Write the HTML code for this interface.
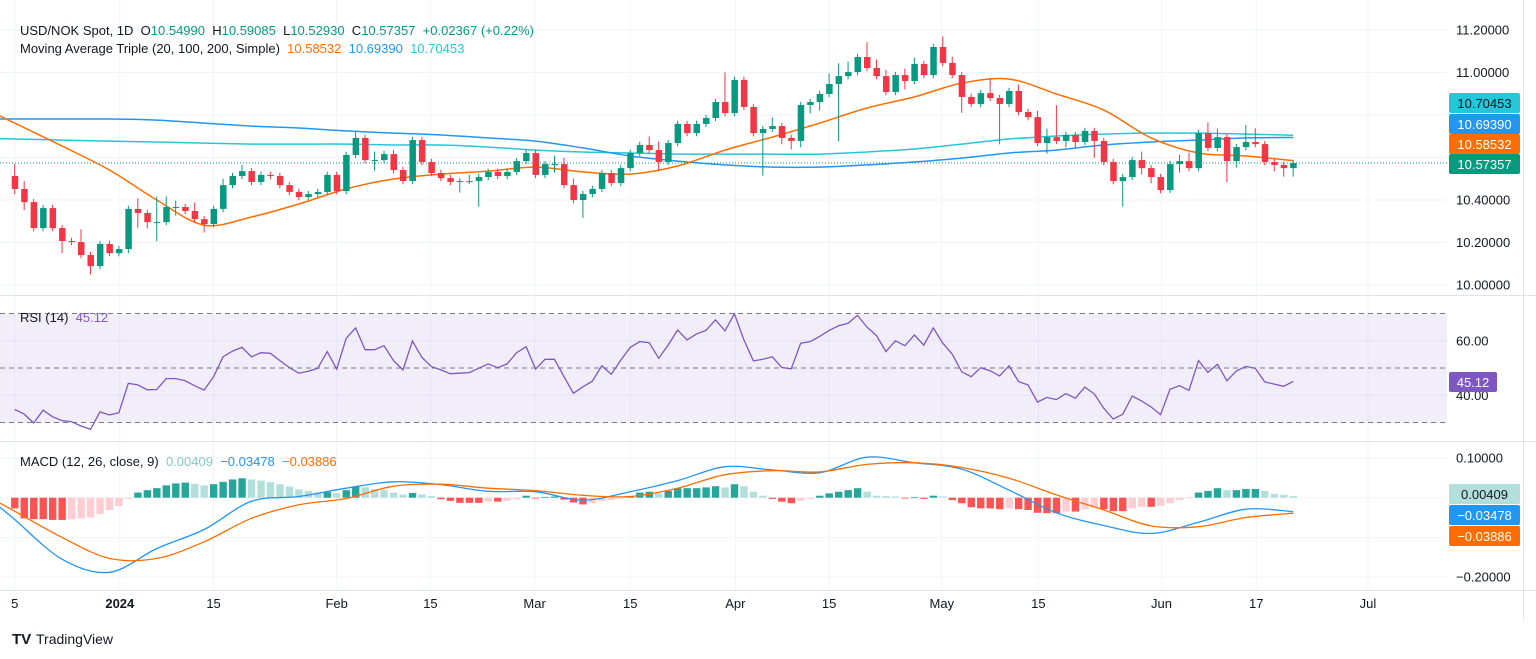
<!DOCTYPE html>
<html><head><meta charset="utf-8"><style>
html,body{margin:0;padding:0;background:#fff;}
svg{display:block;font-family:"Liberation Sans",sans-serif;}
text{white-space:pre;}
</style></head><body>
<svg id="chart" width="1536" height="659" viewBox="0 0 1536 659" xmlns="http://www.w3.org/2000/svg">
<g id="grid"></g>
<rect x="0" y="314" width="1447" height="109" fill="#7e57c2" fill-opacity="0.1"/>
<g id="rsiLevels"></g>
<g id="ma"></g>
<g id="candles"></g>
<g id="rsi"></g>
<g id="macd"></g>
<g id="axes"></g>
<g id="legend">
 <text x="20" y="35" font-size="13" fill="#131722" xml:space="preserve">USD/NOK Spot, 1D  O<tspan fill="#089981">10.54990</tspan>  H<tspan fill="#089981">10.59085</tspan>  L<tspan fill="#089981">10.52930</tspan>  C<tspan fill="#089981">10.57357</tspan>  <tspan fill="#089981">+0.02367 (+0.22%)</tspan></text>
 <text x="20" y="53" font-size="13" fill="#131722" xml:space="preserve">Moving Average Triple (20, 100, 200, Simple)  <tspan fill="#ff6d00">10.58532</tspan>  <tspan fill="#2196f3">10.69390</tspan>  <tspan fill="#26c6da">10.70453</tspan></text>
 <text x="20" y="322" font-size="13" fill="#131722" xml:space="preserve">RSI (14)  <tspan fill="#7e57c2">45.12</tspan></text>
 <text x="20" y="466" font-size="13" fill="#131722" xml:space="preserve">MACD (12, 26, close, 9)  <tspan fill="#80cbc4">0.00409</tspan>  <tspan fill="#2196f3">−0.03478</tspan>  <tspan fill="#ff6d00">−0.03886</tspan></text>
</g>
<g>
 <text x="12" y="644" font-size="15" font-weight="bold" fill="#131722">TV</text>
 <text x="36" y="644" font-size="14" fill="#131722">TradingView</text>
</g>
</svg>
<script>
const NS="http://www.w3.org/2000/svg";
// ---- price data (per daily candle) ----
const firstOpen=10.513;
const closes=[10.452,10.390,10.268,10.362,10.268,10.207,10.202,10.141,10.089,10.193,
10.150,10.169,10.358,10.339,10.296,10.296,10.367,10.367,10.348,10.310,
10.287,10.358,10.470,10.513,10.536,10.485,10.518,10.513,10.470,10.438,
10.414,10.428,10.438,10.518,10.442,10.612,10.692,10.588,10.588,10.616,
10.541,10.489,10.682,10.579,10.527,10.503,10.485,10.489,10.489,10.508,
10.532,10.513,10.532,10.583,10.621,10.518,10.569,10.569,10.470,10.400,
10.428,10.452,10.527,10.480,10.550,10.621,10.659,10.635,10.579,10.668,
10.758,10.715,10.758,10.786,10.861,10.809,10.965,10.838,10.715,10.734,
10.748,10.692,10.678,10.847,10.861,10.899,10.946,10.983,11.002,11.073,
11.021,10.983,10.908,10.988,10.960,11.040,10.988,11.120,11.045,10.988,
10.885,10.852,10.903,10.880,10.852,10.913,10.814,10.790,10.668,10.696,
10.678,10.706,10.673,10.725,10.678,10.579,10.489,10.508,10.588,10.550,
10.508,10.447,10.569,10.583,10.550,10.715,10.645,10.696,10.583,10.649,
10.673,10.663,10.579,10.565,10.550,10.574];
const upWick=[.056,.038,.015,.015,.015,.015,.015,.06,.015,.015,
.015,.015,.015,.05,.015,.12,.05,.03,.015,.04,
.015,.015,.03,.015,.03,.015,.015,.015,.015,.015,
.015,.015,.015,.015,.015,.015,.03,.015,.04,.015,
.02,.015,.015,.015,.015,.015,.015,.015,.03,.015,
.015,.015,.015,.015,.015,.015,.015,.04,.03,.03,
.015,.015,.015,.015,.015,.015,.015,.04,.04,.015,
.015,.015,.015,.015,.015,.14,.015,.015,.015,.015,
.04,.015,.015,.015,.015,.015,.05,.06,.05,.015,
.07,.04,.03,.015,.03,.03,.015,.015,.05,.03,
.015,.015,.015,.07,.015,.015,.03,.015,.03,.04,
.15,.015,.015,.015,.015,.015,.015,.015,.015,.04,
.015,.015,.015,.03,.04,.015,.05,.04,.015,.015,
.08,.065,.015,.015,.015,.015];
const dnWick=[.024,.038,.015,.015,.015,.058,.015,.015,.04,.015,
.015,.015,.02,.07,.03,.09,.015,.04,.015,.015,
.04,.015,.015,.015,.015,.015,.015,.015,.015,.015,
.015,.015,.015,.015,.015,.015,.015,.015,.05,.015,
.015,.015,.015,.015,.015,.015,.015,.05,.015,.12,
.015,.015,.015,.015,.015,.015,.015,.04,.015,.015,
.085,.015,.015,.015,.015,.015,.015,.015,.04,.015,
.015,.015,.015,.015,.015,.015,.015,.015,.015,.2,
.015,.03,.04,.03,.04,.04,.015,.27,.015,.015,
.015,.015,.015,.015,.04,.015,.015,.015,.015,.015,
.075,.015,.015,.015,.19,.015,.015,.015,.015,.05,
.015,.03,.03,.015,.08,.015,.015,.12,.015,.03,
.03,.015,.015,.04,.015,.015,.015,.015,.1,.03,
.015,.015,.015,.03,.04,.04];
// moving averages sampled every 5 candles
const maStep=5;
const ma20=[10.762,10.654,10.541,10.400,10.282,10.320,10.381,10.452,10.499,10.522,10.536,10.555,10.532,10.522,10.560,10.635,10.696,10.762,10.833,10.885,10.950,10.969,10.899,10.823,10.692,10.621,10.607,10.585];
const ma100=[10.781,10.781,10.781,10.776,10.762,10.748,10.739,10.725,10.715,10.706,10.692,10.677,10.645,10.607,10.583,10.565,10.555,10.555,10.565,10.579,10.597,10.621,10.635,10.659,10.673,10.682,10.692,10.694];
const ma200=[10.687,10.682,10.677,10.673,10.668,10.663,10.663,10.663,10.659,10.659,10.649,10.635,10.626,10.621,10.616,10.616,10.616,10.616,10.626,10.640,10.663,10.687,10.701,10.710,10.715,10.715,10.710,10.705];
// RSI per candle
const rsiVals=[34.8,33.1,29.8,34.5,32.1,30.7,30.3,28.7,27.5,33.9,32.8,33.6,44.4,43.8,42.0,42.1,46.1,46.1,45.3,43.5,41.9,46.8,54.1,56.2,57.6,54.1,55.6,55.4,52.7,50.2,48.1,48.8,49.9,56.0,49.6,60.9,64.7,56.7,56.7,58.2,52.7,49.3,59.9,53.9,50.5,49.3,47.9,48.1,48.3,49.9,51.5,50.1,51.5,55.6,57.8,49.6,53.2,53.2,46.8,40.7,43.1,45.2,50.8,47.7,52.9,57.6,59.7,59.3,53.6,
58.4,63.9,60.3,62.5,63.8,67.7,63.6,69.9,60.3,52.6,53.2,54.1,50.2,49.7,59.1,59.7,61.6,63.8,65.5,66.4,69.3,65.0,61.9,56.0,60.0,58.2,62.1,58.4,64.7,59.1,55.1,48.6,46.8,50.1,49.0,47.1,50.8,45.0,43.8,37.5,39.2,38.4,40.6,38.9,43.0,40.5,35.2,31.3,33.0,39.7,37.9,35.7,32.9,42.2,43.5,41.8,52.7,48.4,51.4,45.3,48.9,50.6,49.9,44.9,44.1,43.3,45.1];
// MACD
const macdLine=[-0.055,-0.155,-0.188,-0.128,-0.080,-0.009,0.003,0.024,0.040,0.033,0.016,0.015,-0.006,0.015,0.043,0.078,0.070,0.063,0.102,0.088,0.072,0.019,-0.038,-0.070,-0.090,-0.062,-0.029,-0.035];
const signalLine=[-0.034,-0.100,-0.153,-0.153,-0.111,-0.052,-0.018,-0.002,0.029,0.034,0.024,0.018,0.006,0.003,0.024,0.058,0.068,0.065,0.084,0.088,0.076,0.049,0.007,-0.031,-0.071,-0.073,-0.050,-0.039];
const hist=[-0.027,-0.052,-0.054,-0.054,-0.056,-0.056,-0.054,-0.052,-0.050,-0.041,
-0.031,-0.021,-0.003,0.013,0.019,0.024,0.031,0.036,0.038,0.035,
0.031,0.034,0.040,0.046,0.049,0.046,0.043,0.039,0.034,0.028,
0.021,0.017,0.013,0.014,0.011,0.019,0.028,0.026,0.022,0.019,
0.013,0.008,0.012,0.008,0.004,-0.004,-0.008,-0.013,-0.013,-0.013,
-0.010,-0.010,-0.008,-0.004,0.005,-0.002,0.002,0.003,-0.005,-0.012,
-0.017,-0.013,-0.008,-0.006,-0.002,0.004,0.013,0.015,0.011,0.017,
0.024,0.024,0.024,0.026,0.029,0.026,0.034,0.029,0.015,0.005,
-0.003,-0.010,-0.014,-0.008,-0.003,0.005,0.011,0.015,0.019,0.024,
0.015,0.005,0.004,0.003,-0.002,0.001,-0.003,0.005,0.003,-0.006,
-0.014,-0.024,-0.027,-0.027,-0.029,-0.027,-0.029,-0.031,-0.038,-0.039,
-0.039,-0.035,-0.035,-0.029,-0.024,-0.029,-0.034,-0.034,-0.027,-0.023,
-0.023,-0.021,-0.014,-0.006,-0.002,0.013,0.017,0.024,0.019,0.019,
0.022,0.022,0.017,0.009,0.007,0.004];
// axis ticks
const priceTicks=[10.0,10.2,10.4,10.6,10.8,11.0,11.2];
const priceTickLabels=["10.00000","10.20000","10.40000","","","11.00000","11.20000"];
const rsiTicks=[40,60];
const macdTicks=[-0.2,-0.1,0,0.1];
const macdTickLabels=["−0.20000","","","0.10000"];
const timeLabels=["5","2024","15","Feb","15","Mar","15","Apr","15","May","15","Jun","17","Jul"];
const timeIdx=[0,11.1,21,34.0,43.9,54.9,65,76.1,86.0,97.9,108.1,121.1,131.1,142.9];

// ---- scales ----
const X=i=>14.7+9.47*i;
const YP=p=>285-(p-10)*212.5;
const YR=r=>368-(r-50)*2.725;
const YM=m=>497.7-m*397;
const PLOT_R=1447;

function el(tag,attrs,parent){const e=document.createElementNS(NS,tag);for(const k in attrs)e.setAttribute(k,attrs[k]);parent.appendChild(e);return e;}
function smooth(pts){let d="M"+pts[0][0].toFixed(1)+","+pts[0][1].toFixed(1);
 for(let i=0;i<pts.length-1;i++){const p0=pts[Math.max(0,i-1)],p1=pts[i],p2=pts[i+1],p3=pts[Math.min(pts.length-1,i+2)];
 const c1=[p1[0]+(p2[0]-p0[0])/6,p1[1]+(p2[1]-p0[1])/6],c2=[p2[0]-(p3[0]-p1[0])/6,p2[1]-(p3[1]-p1[1])/6];
 d+=" C"+c1[0].toFixed(1)+","+c1[1].toFixed(1)+" "+c2[0].toFixed(1)+","+c2[1].toFixed(1)+" "+p2[0].toFixed(1)+","+p2[1].toFixed(1);}return d;}
function withLead(pts){const a=pts[0],b=pts[1];const s=(b[1]-a[1])/(b[0]-a[0]);return [[0,a[1]-s*a[0]]].concat(pts.slice(1).length?[a].concat(pts.slice(1)):[a]);}

const grid=document.getElementById('grid'),axes=document.getElementById('axes');
priceTicks.forEach(p=>{const l=el('line',{x1:0,x2:PLOT_R,y1:YP(p),y2:YP(p),stroke:'#f0f3fa'},grid);

});
rsiTicks.forEach(r=>{const l=el('line',{x1:0,x2:PLOT_R,y1:YR(r),y2:YR(r),stroke:'#f0f3fa'},grid);

});
macdTicks.forEach(m=>{const l=el('line',{x1:0,x2:PLOT_R,y1:YM(m),y2:YM(m),stroke:'#f0f3fa'},grid);

});
timeIdx.forEach(t=>{const l=el('line',{x1:X(t),x2:X(t),y1:0,y2:590,stroke:'#f0f3fa'},grid);

});
[[295.5],[441.5],[590.5]].forEach(v=>{const l=el('line',{x1:0,x2:1536,y1:v[0],y2:v[0],stroke:'#e0e3eb'},grid);

});
const vd=el('line',{x1:1523.5,x2:1523.5,y1:0,y2:620,stroke:'#e0e3eb'},grid);


const rl=document.getElementById('rsiLevels');
[70,50,30].forEach(r=>{const l=el('line',{x1:0,x2:PLOT_R,y1:YR(r),y2:YR(r),stroke:'#787b86','stroke-dasharray':'5,4','stroke-width':1},rl);

});

const maG=document.getElementById('ma');
[[ma200,'#26c6da','ma200-line'],[ma100,'#2196f3','ma100-line'],[ma20,'#ff6d00','ma20-line']].forEach(([arr,c,n])=>{
 const pts=withLead(arr.map((v,k)=>[X(k*maStep),YP(v)]));
 const p=el('path',{d:smooth(pts),fill:'none',stroke:c,'stroke-width':1.5},maG);
 
 
});

const cg=document.getElementById('candles');
const lastY=YP(closes[closes.length-1]);
const dl=el('line',{x1:0,x2:PLOT_R,y1:lastY,y2:lastY,stroke:'#089981','stroke-dasharray':'1,2'},cg);


closes.forEach((c,i)=>{
 const o=i===0?firstOpen:closes[i-1];
 const hi=Math.max(o,c)+upWick[i], lo=Math.min(o,c)-dnWick[i];
 const col=c>=o?'#089981':'#f23645';
 const g=el('g',{},cg);
 
 
 el('line',{x1:X(i),x2:X(i),y1:YP(hi),y2:YP(lo),stroke:col,'stroke-width':1},g);
 const top=YP(Math.max(o,c)),h=Math.max(1,YP(Math.min(o,c))-top);
 el('rect',{x:X(i)-3,y:top,width:6.5,height:h,fill:col},g);
});

const rg=document.getElementById('rsi');
const rp=el('polyline',{points:rsiVals.map((v,i)=>X(i).toFixed(1)+","+YR(v).toFixed(1)).join(" "),fill:'none',stroke:'#7e57c2','stroke-width':1.3},rg);



const mg=document.getElementById('macd');
hist.forEach((v,i)=>{
 const prev=i>0?hist[i-1]:v;
 let col;
 if(v>=0) col=v>=prev?'#26a69a':'#b2dfdb'; else col=v<=prev?'#ff5252':'#ffcdd2';
 const y0=YM(0),y1=YM(v);
 const r=el('rect',{x:X(i)-3.6,y:Math.min(y0,y1),width:7.4,height:Math.max(0.8,Math.abs(y1-y0)),fill:col},mg);
 
 
});
[[macdLine,'#2196f3','macd-line'],[signalLine,'#ff6d00','signal-line']].forEach(([arr,c,n])=>{
 const pts=withLead(arr.map((v,k)=>[X(k*maStep),YM(v)]));
 const p=el('path',{d:smooth(pts),fill:'none',stroke:c,'stroke-width':1.3},mg);
 
 
});

priceTicks.forEach((p,i)=>{if(!priceTickLabels[i])return;
 const t=el('text',{x:1456,y:YP(p)+4.5,'font-size':13,fill:'#131722'},axes);t.textContent=priceTickLabels[i];
 
 });
rsiTicks.forEach(r=>{const t=el('text',{x:1456,y:YR(r)+4.5,'font-size':13,fill:'#131722'},axes);t.textContent=r.toFixed(2);
 
 });
macdTicks.forEach((m,i)=>{if(!macdTickLabels[i])return;
 const t=el('text',{x:1456,y:YM(m)+4.5,'font-size':13,fill:'#131722'},axes);t.textContent=macdTickLabels[i];
 
 });
timeLabels.forEach((s,i)=>{const t=el('text',{x:X(timeIdx[i]),y:608,'font-size':13,fill:'#131722','text-anchor':'middle','font-weight':s==='2024'?'bold':'normal'},axes);t.textContent=s;
 
 });
const tags=[[103,'#26c6da','#131722','10.70453','ma200-tag'],[124,'#2196f3','#fff','10.69390','ma100-tag'],[144,'#ff6d00','#fff','10.58532','ma20-tag'],[164,'#089981','#fff','10.57357','last-price-tag'],
[382,'#7e57c2','#fff','45.12','rsi-tag'],[494,'#b2dfdb','#131722','0.00409','histogram-tag'],[515,'#2196f3','#fff','−0.03478','macd-tag'],[536,'#ff6d00','#fff','−0.03886','signal-tag']];
tags.forEach(([y,bg,fg,s,n])=>{
 const g=el('g',{},axes);
 
 
 const w=s.length<=5?48:71;
 el('rect',{x:1449,y:y-10,width:w,height:20,rx:2,fill:bg},g);
 const t=el('text',{x:1449+w/2,y:y+5,'font-size':13,fill:fg,'text-anchor':'middle'},g);t.textContent=s;
});
</script>
</body></html>
